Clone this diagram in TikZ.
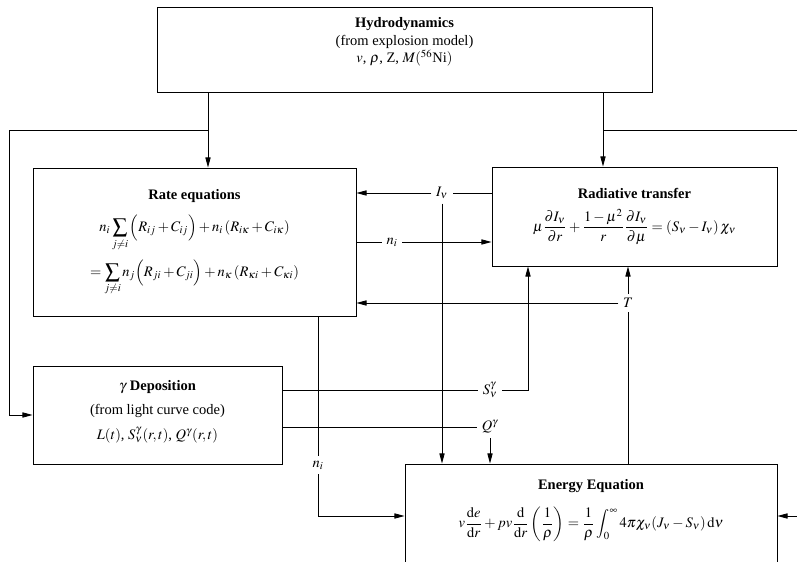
\documentclass[tikz,border=0pt]{standalone}
\usepackage{mathptmx}
\usepackage{fontspec}
\setmainfont{Liberation Serif}
\usetikzlibrary{arrows.meta,positioning}
\begin{document}
\begin{tikzpicture}[x=0.69pt,y=-0.69pt,line width=0.6pt]
 \tikzstyle{block}=[draw,align=center,inner sep=2pt]
 \tikzstyle{arr}=[-{Triangle[length=7pt,width=3.6pt]}]
 \tikzstyle{lbl}=[inner sep=3pt]
\useasboundingbox (0,0) rectangle (797,562);
\clip (0,0) rectangle (797,562);
\node[block,minimum width=341.6pt,minimum height=58.7pt] (hydro) at (404.5,49.5)
 {\textbf{Hydrodynamics}\\(from explosion model)\\$v$, $\rho$, Z, $M(^{56}$Ni$)$\\[1pt]};
\node[block,minimum width=222.9pt,minimum height=102.1pt] (rate) at (194.5,242)
 {\textbf{Rate equations}\\[8pt]
 $\displaystyle n_i\sum_{j\neq i}\Big(R_{ij}+C_{ij}\Big)+n_i\left(R_{i\kappa}+C_{i\kappa}\right)$\\[5pt]
 $\displaystyle =\sum_{j\neq i}n_j\Big(R_{ji}+C_{ji}\Big)+n_\kappa\left(R_{\kappa i}+C_{\kappa i}\right)$};
\node[block,minimum width=196.7pt,minimum height=68.3pt] (rt) at (634.5,216.5)
 {\textbf{Radiative transfer}\\[6pt]
 $\displaystyle \mu\frac{\partial I_\nu}{\partial r}+\frac{1-\mu^2}{r}\frac{\partial I_\nu}{\partial\mu}=(S_\nu-I_\nu)\,\chi_\nu$};
\node[block,minimum width=171.8pt,minimum height=67.6pt] (gam) at (157.5,415)
 {$\gamma$ \textbf{Deposition}\\[5pt](from light curve code)\\[5pt]$L(t)$, $S^\gamma_\nu(r,t)$, $Q^\gamma(r,t)$\\[-5pt]};
\node[block,minimum width=256.7pt,minimum height=71.8pt] (energy) at (591,516) {};
\node (etitle) at (591,486) {\textbf{Energy Equation}};
\node (eeq) at (591,524)
 {$\displaystyle v\frac{\mathrm{d}e}{\mathrm{d}r}+pv\frac{\mathrm{d}}{\mathrm{d}r}\left(\frac{1}{\rho}\right)=\frac{1}{\rho}\int_0^\infty 4\pi\chi_\nu(J_\nu-S_\nu)\,\mathrm{d}\nu$};
\coordinate (hx1) at (208,130);
\coordinate (hx2) at (603,130);
\coordinate (lft) at (9,130);
\coordinate (rgt) at (830,130);
\draw[arr] (hydro.south -| hx1) -- (rate.north -| hx1);
\draw[arr] (hydro.south -| hx2) -- (rt.north -| hx2);
\draw[arr] (hx1) -- (lft) |- (gam.west);
\draw[arr] (hx2) -- (rgt) |- (energy.east);
\node[lbl] (inu) at (442,193) {$I_\nu$};
\draw (rt.west |- inu) -- (inu);
\draw[arr] (inu) -- (rate.east |- inu);
\draw[arr] (inu) -- (energy.north -| inu);
\node[lbl] (ni) at (392,242) {$n_i$};
\draw (rate.east |- ni) -- (ni);
\draw[arr] (ni) -- (rt.west |- ni);
\node[lbl] (temp) at (628,303) {$T$};
\draw (energy.north -| temp) -- (temp);
\draw[arr] (temp) -- (rate.east |- temp);
\draw[arr] (temp) -- (rt.south -| temp);
\node[lbl] (sg) at (490,390) {$S^\gamma_\nu$};
\coordinate (sx) at (528,390);
\draw (gam.east |- sg) -- (sg);
\draw[arr] (sg) -- (sx) -- (rt.south -| sx);
\node[lbl] (qg) at (490,427) {$Q^\gamma$};
\draw (gam.east |- qg) -- (qg);
\draw[arr] (qg) -- (energy.north -| qg);
\node[lbl] (nib) at (318,465) {$n_i$};
\draw (rate.south -| nib) -- (nib);
\draw[arr] (nib) |- (energy.west);
\end{tikzpicture}
\end{document}
